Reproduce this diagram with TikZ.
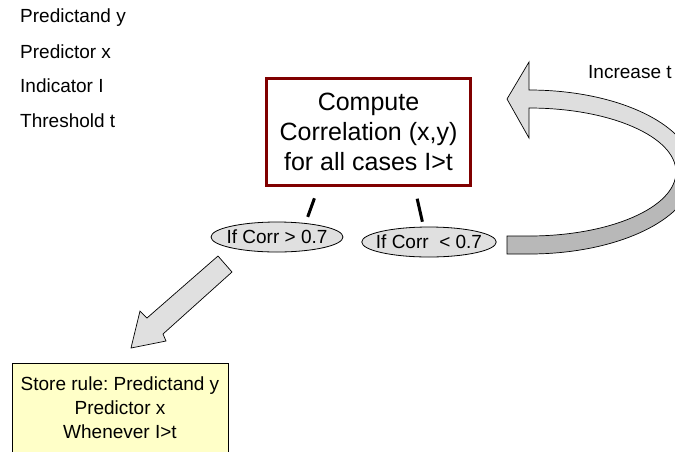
\documentclass[tikz,border=0pt]{standalone}
\usepackage{fontspec}
\setmainfont{Liberation Sans}
\usetikzlibrary{shapes.geometric}
\usetikzlibrary{calc}

\definecolor{boxred}{RGB}{128,0,0}
\definecolor{notefill}{RGB}{255,255,200}
\definecolor{ovalfill}{RGB}{224,224,224}
\definecolor{bandlight}{RGB}{222,222,222}
\definecolor{banddark}{RGB}{184,184,184}

\newcommand{\smalltext}{\fontsize{19}{24}\selectfont\frenchspacing}
\newcommand{\bigtext}{\fontsize{25}{30}\selectfont}

\begin{document}
\begin{tikzpicture}[x=1pt,y=-1pt,
    label/.style={anchor=west,font=\smalltext,inner sep=0pt},
    oval/.style={ellipse,draw,fill=ovalfill,line width=0.8pt,
        inner xsep=-5.5pt,inner ysep=0pt,
        minimum width=132,minimum height=30,font=\smalltext},
    stub/.style={line width=3pt,shorten <=12pt,shorten >=5pt},
    block/.style={draw,line width=0.7pt,line join=miter}]
    \useasboundingbox (0,0) rectangle (675,451);
    \clip (0,0) rectangle (675,451);

    % variables
    \node[label] (pred) at (20,18) {Predictand y};
    \node[label] (predx) at (20,52) {Predictor x};
    \node[label] (ind) at (20,86) {Indicator I};
    \node[label] (thr) at (20,121) {Threshold t};

    % main step
    \node[draw=boxred,line width=3pt,minimum width=204,minimum height=107,
        align=center,font=\bigtext] (corr) at (368.5,132)
        {Compute\\Correlation (x,y)\\for all cases I>t};

    % the two outcomes
    \node[oval] (hi) at (277,237) {If Corr > 0.7};
    \node[oval] (lo) at (429,242) {If Corr \ < 0.7};
    \draw[stub] ($(corr.south)+(-50,0)$) -- ($(hi.north)+(29,0)$);
    \draw[stub] ($(corr.south)+(46,0)$) -- ($(lo.north)+(-5.5,0)$);

    % loop back arrow
    \filldraw[block,fill=bandlight] (507,99) -- (529,62) -- (529,90)
        arc[start angle=-90,end angle=0,x radius=165,y radius=82] -- ++(-18,0)
        arc[start angle=0,end angle=-90,x radius=147,y radius=64]
        -- (529,138) -- cycle;
    \filldraw[block,fill=banddark] (507,236) -- (529,236)
        arc[start angle=90,end angle=0,x radius=147,y radius=64] -- ++(18,0)
        arc[start angle=0,end angle=90,x radius=165,y radius=82]
        -- (507,254) -- cycle;
    \node[label] (inc) at (588,72) {Increase t};

    % arrow down to the stored rule
    \filldraw[block,fill=ovalfill] (218,256) -- (232,272) -- (163,334)
        -- (166,341) -- (131,348) -- (140,311) -- (147,318) -- cycle;

    \node[draw,line width=0.8pt,fill=notefill,minimum width=216,minimum height=90,
        align=center,font=\smalltext] (rule) at (120,408)
        {Store rule: Predictand y\\Predictor x\\Whenever I>t};
\end{tikzpicture}
\end{document}
